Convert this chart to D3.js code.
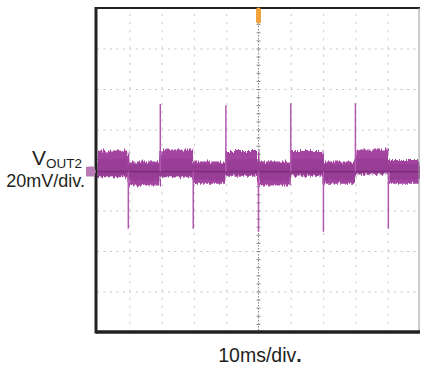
<!DOCTYPE html>
<html>
<head>
<meta charset="utf-8">
<script src="https://cdn.jsdelivr.net/npm/d3@7"></script>
<style>
  body { margin: 0; background: #fff; }
  text { font-family: "Liberation Sans", Arial, sans-serif; fill: #231f20; }
</style>
</head>
<body>
<div id="scope"></div>
<script>
// time in ms (10 ms/div), voltage in mV (20 mV/div)
const timeDivs = [0, 10, 20, 30, 40, 50, 60, 70, 80, 90, 100];
const voltDivs = [-80, -60, -40, -20, 0, 20, 40, 60, 80];

// noise band of VOUT2, one entry per step of the ripple
const segStart  = [0, 9.7, 19.6, 29.8, 39.9, 50, 60, 70.1, 80, 90.2];
const segTop    = [9.6, 4.2, 10.1, 4.2, 9.4, 4.2, 9.4, 4.2, 10.1, 5.0];
const segBottom = [-3.6, -7.6, -3.6, -6.8, -2.9, -7.6, -2.9, -6.8, -1.9, -6.8];
const coreLevel = -0.8;

// switching spikes at each step
const spikeTime = [9.7, 19.6, 29.8, 39.9, 50, 60, 70.1, 80, 90.2];
const spikePeak = [-29, 32.6, -29, 32, -30.5, 33, -30.5, 33, -29];

const triggerTime = 50;

const W = 421, H = 365;
const margin = { top: 8, right: 1, bottom: 33, left: 97 };
const width = W - margin.left - margin.right;
const height = H - margin.top - margin.bottom;

const svg = d3.select("#scope").append("svg")
  .attr("width", W)
  .attr("height", H);

const defs = svg.append("defs");
defs.append("clipPath").attr("id", "clip")
  .append("rect").attr("width", width).attr("height", height);

function noiseFilter(id, freq, seed, scale) {
  const f = defs.append("filter").attr("id", id)
    .attr("x", "-2%").attr("y", "-60%").attr("width", "104%").attr("height", "220%");
  f.append("feTurbulence").attr("type", "fractalNoise")
    .attr("baseFrequency", freq).attr("numOctaves", 2).attr("seed", seed).attr("result", "t");
  f.append("feDisplacementMap").attr("in", "SourceGraphic").attr("in2", "t")
    .attr("scale", scale).attr("xChannelSelector", "B").attr("yChannelSelector", "G");
}
noiseFilter("noise", "0.6 0.04", 3, 8);
noiseFilter("noise2", "0.8 0.06", 8, 6);

const g = svg.append("g")
  .attr("transform", `translate(${margin.left},${margin.top})`);

const x = d3.scaleLinear().domain([0, 100]).range([0, width]);
const y = d3.scaleLinear().domain([-80, 80]).range([height, 0]);

// grid
const minorX = x(2) - x(0), minorY = y(0) - y(4);
g.append("g")
  .attr("transform", `translate(0,${height})`)
  .call(d3.axisBottom(x).tickValues(timeDivs.slice(1, -1).filter(d => d !== triggerTime)).tickSize(height).tickFormat(""))
  .call(a => a.select(".domain").remove())
  .selectAll("line")
  .attr("y2", -height)
  .attr("stroke", "#c4c4c4")
  .attr("stroke-width", 1)
  .attr("stroke-dasharray", `2 ${minorY - 2}`);

g.append("g")
  .call(d3.axisLeft(y).tickValues(voltDivs.slice(1, -1).filter(d => d !== 0)).tickSize(-width).tickFormat(""))
  .call(a => a.select(".domain").remove())
  .selectAll("line")
  .attr("stroke", "#c4c4c4")
  .attr("stroke-width", 1)
  .attr("stroke-dasharray", `2 ${minorX - 2}`);

// centre axes with minor ticks
const cx = x(triggerTime), cy = y(0);
g.append("line").attr("x1", cx).attr("x2", cx).attr("y1", 0).attr("y2", height)
  .attr("stroke", "#8a8a8a").attr("stroke-dasharray", "1.5 1.5");
g.append("line").attr("x1", 0).attr("x2", width).attr("y1", cy).attr("y2", cy)
  .attr("stroke", "#8a8a8a").attr("stroke-dasharray", "1.5 1.5");
g.append("g").attr("transform", `translate(${cx - 2},0)`)
  .call(d3.axisRight(y).tickValues(d3.range(-76, 80, 4)).tickSize(4).tickFormat(""))
  .call(a => a.select(".domain").remove())
  .selectAll("line").attr("stroke", "#8a8a8a");
g.append("g").attr("transform", `translate(0,${cy - 2})`)
  .call(d3.axisBottom(x).tickValues(d3.range(2, 100, 2)).tickSize(4).tickFormat(""))
  .call(a => a.select(".domain").remove())
  .selectAll("line").attr("stroke", "#8a8a8a");

// trace
const band = segStart.map((t, i) => ({ t, top: segTop[i], bottom: segBottom[i] }));
band.push({ t: 100, top: segTop[segTop.length - 1], bottom: segBottom[segBottom.length - 1] });

const area = d3.area()
  .curve(d3.curveStepAfter)
  .x(d => x(d.t))
  .y0(d => y(d.bottom))
  .y1(d => y(d.top));

const trace = g.append("g").attr("clip-path", "url(#clip)");

trace.append("path")
  .datum(band)
  .attr("d", area)
  .attr("fill", "#a345a0")
  .attr("filter", "url(#noise)");

trace.append("path")
  .datum(band.map(d => ({ t: d.t, top: (d.top + coreLevel) / 2 + 1, bottom: (d.bottom + coreLevel) / 2 - 1 })))
  .attr("d", area)
  .attr("fill", "#8a3088")
  .attr("opacity", 0.4)
  .attr("filter", "url(#noise2)");

trace.append("line")
  .attr("x1", 0).attr("x2", width)
  .attr("y1", y(coreLevel)).attr("y2", y(coreLevel))
  .attr("stroke", "#6f2170").attr("stroke-width", 1.6).attr("opacity", 0.6);

trace.selectAll(".spike")
  .data(spikeTime.map((t, i) => ({ t, peak: spikePeak[i] })))
  .enter().append("line")
  .attr("class", "spike")
  .attr("x1", d => x(d.t)).attr("x2", d => x(d.t))
  .attr("y1", y(coreLevel)).attr("y2", d => y(d.peak))
  .attr("stroke", "#b258ae")
  .attr("stroke-width", 1.5);

// frame
g.append("line").attr("x1", 0).attr("x2", width).attr("y1", 0).attr("y2", 0)
  .attr("stroke", "#222").attr("stroke-width", 2);
g.append("line").attr("x1", width - 1).attr("x2", width - 1).attr("y1", 0).attr("y2", height)
  .attr("stroke", "#9a9a9a").attr("stroke-width", 1);
g.append("line").attr("x1", -1).attr("x2", width).attr("y1", height).attr("y2", height)
  .attr("stroke", "#222").attr("stroke-width", 3.5);
g.append("line").attr("x1", -1).attr("x2", -1).attr("y1", -1).attr("y2", height + 1.5)
  .attr("stroke", "#222").attr("stroke-width", 3);

// trigger marker
g.append("line")
  .attr("x1", cx).attr("x2", cx).attr("y1", 2).attr("y2", 13)
  .attr("stroke", "#f4a23c").attr("stroke-width", 5).attr("stroke-linecap", "round");

// channel ground marker
g.append("path")
  .attr("transform", `translate(-1,${y(coreLevel)})`)
  .attr("d", "M-10,-4.5 Q-10,-5 -6,-5 L-2,-5 L0,0 L-2,5 L-6,5 Q-10,5 -10,4.5 Z")
  .attr("fill", "#b77ab4");

// labels
const lab = svg.append("text").attr("x", 32).attr("y", 165);
lab.append("tspan").attr("font-size", 21).text("V");
lab.append("tspan").attr("font-size", 13.5).attr("dy", 3).text("OUT2");
svg.append("text").attr("x", 85).attr("y", 187)
  .attr("text-anchor", "end").attr("font-size", 18).text("20mV/div.");
const xl = svg.append("text").attr("x", 260).attr("y", 361.5)
  .attr("text-anchor", "middle").attr("font-size", 19.5);
xl.append("tspan").text("10ms/div");
xl.append("tspan").attr("font-weight", "bold").text(".");
</script>
</body>
</html>
